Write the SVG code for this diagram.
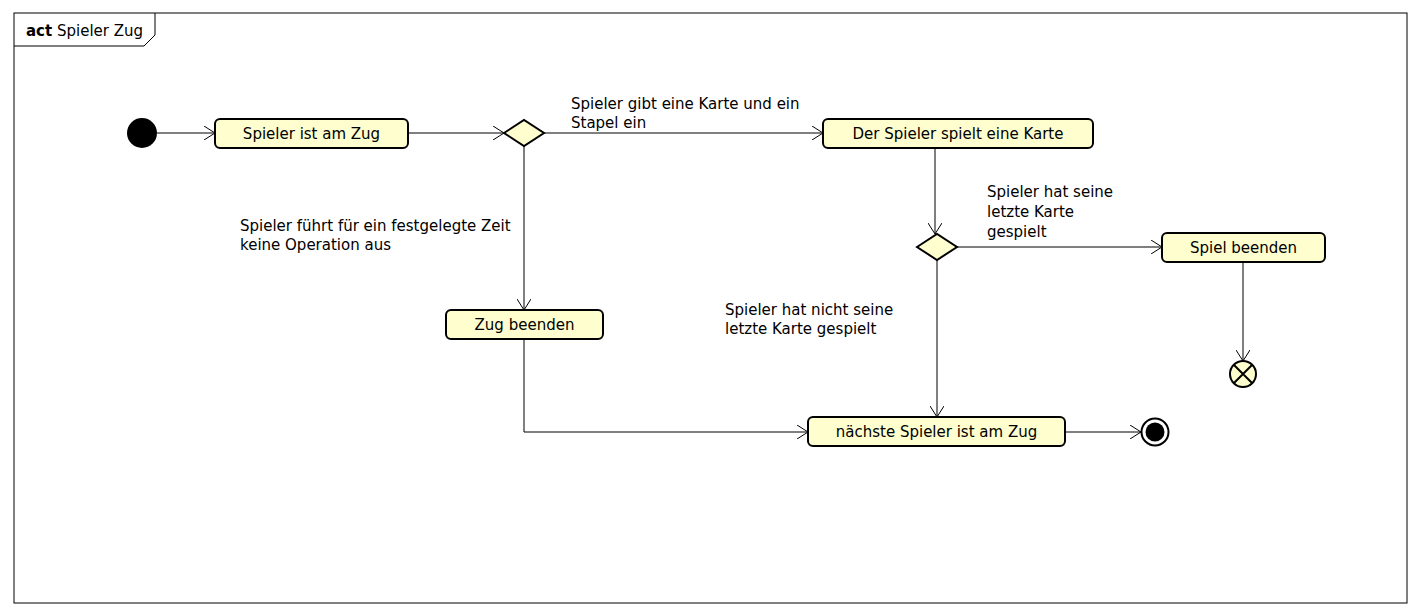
<svg xmlns="http://www.w3.org/2000/svg" width="1420" height="616" viewBox="0 0 1420 616">
<defs>
<marker id="arr" viewBox="0 0 12 14" refX="11" refY="7" markerWidth="12" markerHeight="14" markerUnits="userSpaceOnUse" orient="auto">
<path d="M0,0 L11,7 L0,14" fill="none" stroke="#000" stroke-width="1"/>
</marker>
<style>
.t{font-family:"DejaVu Sans",Verdana,sans-serif;font-size:15px;fill:#000}
.box{fill:#fefece;stroke:#000;stroke-width:2}
.ln{fill:none;stroke:#000;stroke-width:1;marker-end:url(#arr)}
</style>
</defs>
<rect x="0" y="0" width="1420" height="616" fill="#fff"/>
<g id="frame">
<rect x="14" y="13" width="1393" height="590" fill="none" stroke="#000" stroke-width="1"/>
<path d="M14,46 L144,46 L155,35 L155,13" fill="none" stroke="#000" stroke-width="1"/>
<text x="26" y="36" class="t"><tspan font-weight="bold">act</tspan> Spieler Zug</text>
</g>
<g id="connectors">
<line x1="157" y1="133" x2="215" y2="133" class="ln"/>
<line x1="408" y1="133" x2="504" y2="133" class="ln"/>
<line x1="544" y1="133" x2="823" y2="133" class="ln"/>
<line x1="524" y1="146" x2="524" y2="310" class="ln"/>
<polyline points="524,339 524,432 808,432" class="ln"/>
<line x1="935" y1="148" x2="935" y2="234" class="ln"/>
<line x1="957" y1="247" x2="1162" y2="247" class="ln"/>
<line x1="937" y1="260" x2="937" y2="417" class="ln"/>
<line x1="1243" y1="262" x2="1243" y2="361" class="ln"/>
<line x1="1065" y1="432" x2="1141" y2="432" class="ln"/>
<text x="571" y="109" class="t">Spieler gibt eine Karte und ein</text>
<text x="571" y="128" class="t">Stapel ein</text>
<text x="240" y="231" class="t">Spieler führt für ein festgelegte Zeit</text>
<text x="240" y="250" class="t">keine Operation aus</text>
<text x="987" y="197" class="t">Spieler hat seine</text>
<text x="987" y="217" class="t">letzte Karte</text>
<text x="987" y="237" class="t">gespielt</text>
<text x="725" y="315" class="t">Spieler hat nicht seine</text>
<text x="725" y="334" class="t">letzte Karte gespielt</text>
</g>
<g id="start"><circle cx="142" cy="133" r="15" fill="#000"/></g>
<g id="n1"><rect x="215" y="119" width="193" height="29" rx="5" class="box"/><text x="311.5" y="139" text-anchor="middle" class="t">Spieler ist am Zug</text></g>
<g id="d1"><polygon points="504,133 524,120 544,133 524,146" class="box"/></g>
<g id="n2"><rect x="823" y="119" width="270" height="29" rx="5" class="box"/><text x="958" y="139" text-anchor="middle" class="t">Der Spieler spielt eine Karte</text></g>
<g id="n3"><rect x="446" y="310" width="157" height="29" rx="5" class="box"/><text x="524.5" y="330" text-anchor="middle" class="t">Zug beenden</text></g>
<g id="d2"><polygon points="917,247 937,234 957,247 937,260" class="box"/></g>
<g id="n4"><rect x="1162" y="233" width="163" height="29" rx="5" class="box"/><text x="1243.5" y="253" text-anchor="middle" class="t">Spiel beenden</text></g>
<g id="n5"><rect x="808" y="417" width="257" height="29" rx="5" class="box"/><text x="936.5" y="437" text-anchor="middle" class="t">nächste Spieler ist am Zug</text></g>
<g id="flowfinal"><circle cx="1243" cy="374" r="13" class="box"/><path d="M1234,365 L1252,383 M1252,365 L1234,383" stroke="#000" stroke-width="2"/></g>
<g id="final"><circle cx="1155" cy="432" r="13.5" fill="#fff" stroke="#000" stroke-width="2"/><circle cx="1155" cy="432" r="9.5" fill="#000"/></g>
</svg>
